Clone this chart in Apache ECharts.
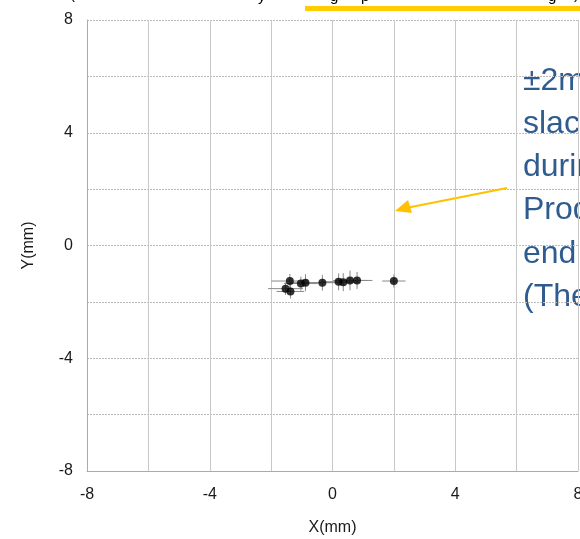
<!DOCTYPE html>
<html><head><meta charset="utf-8">
<script src="https://cdn.jsdelivr.net/npm/echarts@6/dist/echarts.min.js"></script>
<style>html,body{margin:0;padding:0;background:#fff}#c{width:580px;height:539px}</style>
</head><body><div id="c"></div>
<script>
const xVals = [-1.39, -1.53, -1.37, -1.03, -0.88, -0.33, 0.20, 0.35, 0.57, 0.80, 2.00];
const yVals = [-1.26, -1.53, -1.63, -1.35, -1.32, -1.32, -1.29, -1.30, -1.24, -1.24, -1.26];
const xErr  = [0.60, 0.57, 0.45, 0.55, 0.50, 0.50, 0.55, 0.55, 0.55, 0.50, 0.38];
const yErr  = [0.25, 0.22, 0.25, 0.25, 0.30, 0.28, 0.30, 0.32, 0.35, 0.30, 0.23];
const xTicks = [-8, -4, 0, 4, 8];
const yTicks = [-8, -4, 0, 4, 8];
const noteLines = ['\u00b12mm', 'slack', 'during', 'Production', 'end', '(The'];

const pts = xVals.map((x, i) => [x, yVals[i], xErr[i], yErr[i]]);
const chart = echarts.init(document.getElementById('c'));
const lbl = {color:'#1a1a1a', fontSize:16, fontFamily:'Liberation Sans, Arial, sans-serif'};
const nameStyle = {color:'#1a1a1a', fontSize:16, fontFamily:'Liberation Sans, Arial, sans-serif'};
const noteGraphics = noteLines.map((t, i) => ({
  type:'text', left:523, top: 65 + i*43.2,
  style:{text:t, fill:'#2F5C8F', font:'32px "Liberation Sans", Arial, sans-serif'}
}));
chart.setOption({
  animation:false,
  grid:{left:87, right:2, top:20, bottom:68, outerBoundsMode:'none', containLabel:false},
  xAxis:{type:'value', min:-8, max:8, interval:2,
    name:'X(mm)', nameLocation:'middle', nameGap:49, nameTextStyle:nameStyle,
    axisLine:{show:true, onZero:false, lineStyle:{color:'#aaa'}}, axisTick:{show:false},
    axisLabel:Object.assign({margin:16, formatter:v => xTicks.includes(v) ? String(v) : ''}, lbl),
    splitLine:{show:true, lineStyle:{color:'#c8c8c8', width:1}}},
  yAxis:{type:'value', min:-8, max:8, interval:2,
    name:'Y(mm)', nameLocation:'middle', nameGap:50, nameRotate:90, nameTextStyle:nameStyle,
    axisLine:{show:true, onZero:false, lineStyle:{color:'#aaa'}}, axisTick:{show:false},
    axisLabel:Object.assign({margin:14, formatter:v => yTicks.includes(v) ? String(v) : ''}, lbl),
    splitLine:{show:true, lineStyle:{color:'#bbb', width:1, type:[2,1]}}},
  series:[
    {type:'custom', data:pts, z:2,
      renderItem:(params, api) => {
        const x = api.value(0), y = api.value(1), ex = api.value(2), ey = api.value(3);
        const l = api.coord([x-ex, y]), r = api.coord([x+ex, y]);
        const t = api.coord([x, y+ey]), b = api.coord([x, y-ey]);
        const st = {stroke:'#888', lineWidth:1};
        return {type:'group', children:[
          {type:'line', shape:{x1:l[0], y1:l[1], x2:r[0], y2:r[1]}, style:st},
          {type:'line', shape:{x1:t[0], y1:t[1], x2:b[0], y2:b[1]}, style:st}
        ]};
      }},
    {type:'scatter', data:pts.map(p => [p[0], p[1]]), symbol:'circle', symbolSize:8,
      itemStyle:{color:'#000'}, z:3}
  ],
  graphic:[
    {type:'rect', shape:{x:305, y:6, width:275, height:5}, style:{fill:'#FFCC00'}},
    {type:'line', shape:{x1:507, y1:188, x2:406, y2:208}, style:{stroke:'#FFC000', lineWidth:2}},
    {type:'polygon', shape:{points:[[395,211],[408,200],[412,213]]}, style:{fill:'#FFC000'}},
    {type:'text', left:70, top:-13, style:{text:'(', fill:'#000', font:'15px "Liberation Sans", Arial'}},
    {type:'text', left:258, top:-11, style:{text:'y', fill:'#000', font:'15px "Liberation Sans", Arial'}},
    {type:'text', left:330, top:-11, style:{text:'g', fill:'#000', font:'15px "Liberation Sans", Arial'}},
    {type:'text', left:361, top:-11, style:{text:'p', fill:'#000', font:'15px "Liberation Sans", Arial'}},
    {type:'text', left:548, top:-11, style:{text:'g', fill:'#000', font:'15px "Liberation Sans", Arial'}},
    {type:'text', left:574, top:-13, style:{text:')', fill:'#000', font:'15px "Liberation Sans", Arial'}}
  ].concat(noteGraphics)
});
</script></body></html>
